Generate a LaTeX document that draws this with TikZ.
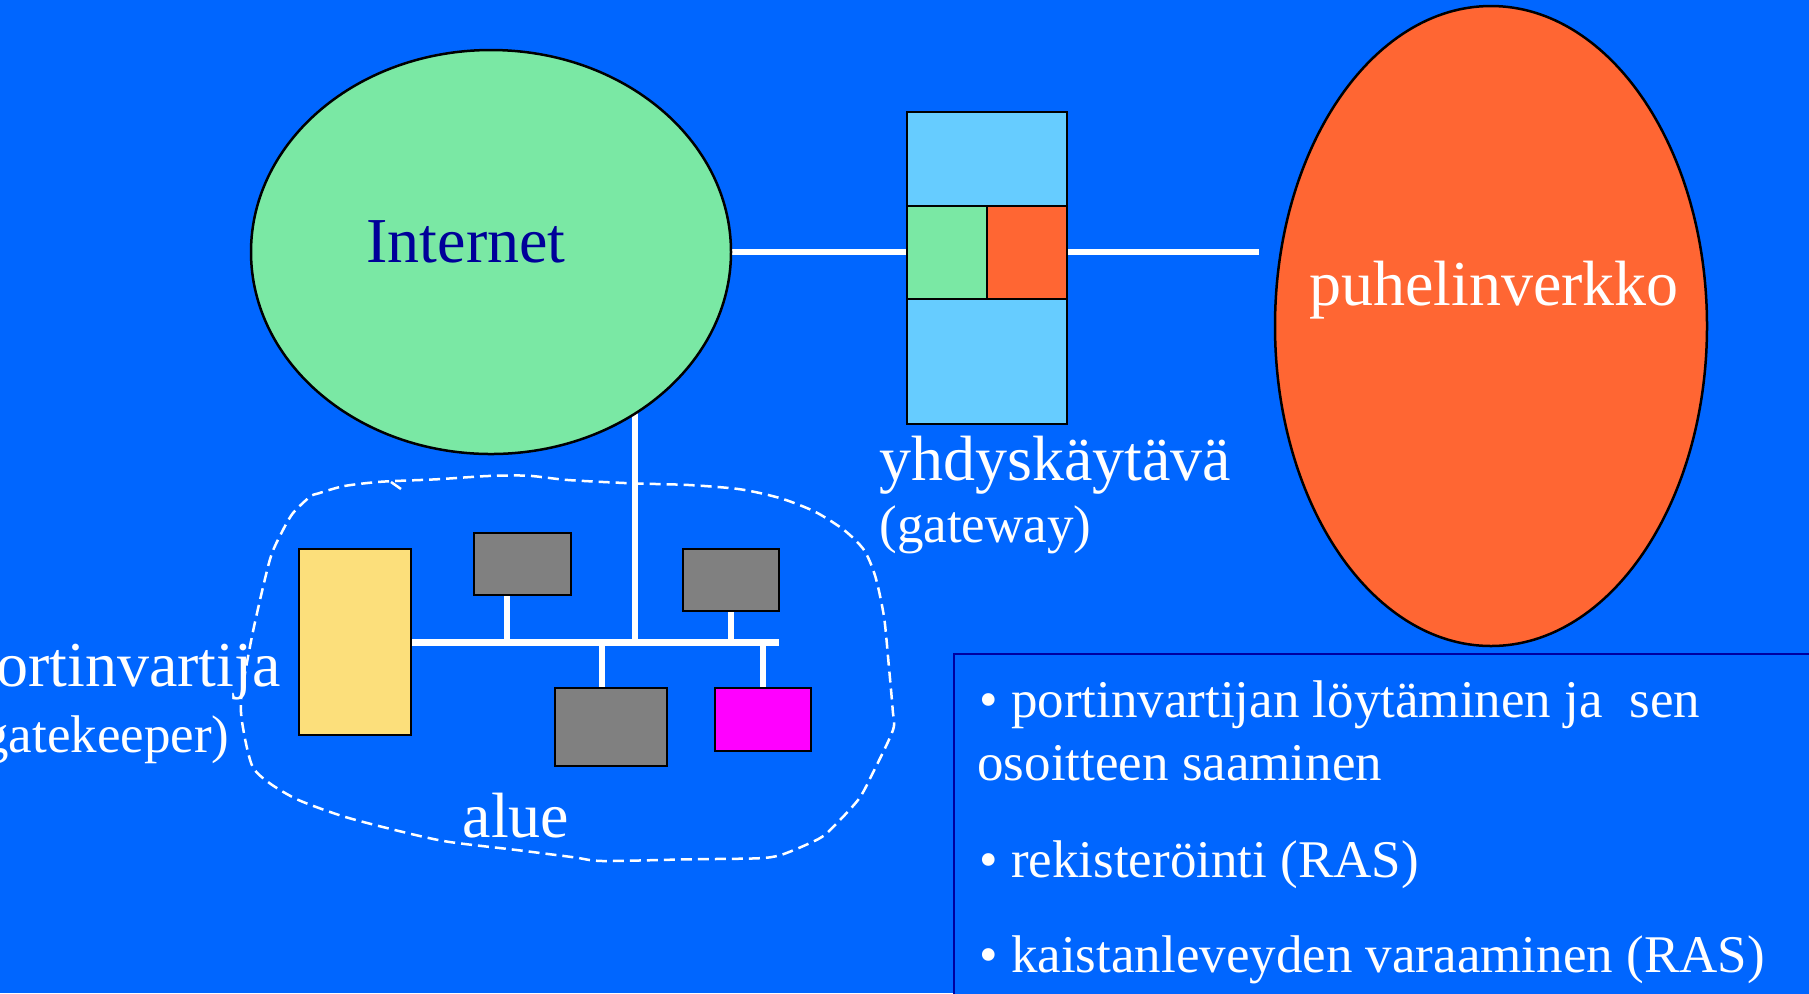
\documentclass[tikz,border=0pt]{standalone}
\usepackage{fontspec}
\setmainfont{Liberation Serif}
\usetikzlibrary{shapes.geometric}

\definecolor{bgblue}{RGB}{0,102,255}
\definecolor{netgreen}{RGB}{122,232,164}
\definecolor{gwblue}{RGB}{102,204,255}
\definecolor{telorange}{RGB}{255,102,51}
\definecolor{gkyellow}{RGB}{252,223,123}
\definecolor{hostgray}{RGB}{128,128,128}
\definecolor{termmagenta}{RGB}{255,0,255}
\definecolor{navytext}{RGB}{0,0,153}
\definecolor{boxedge}{RGB}{0,0,160}

\pgfdeclarelayer{back}
\pgfdeclarelayer{wires}
\pgfsetlayers{back,wires,main}

\tikzset{
  cloudnet/.style={ellipse, draw=black, line width=1.25pt, inner sep=0pt, outer sep=0pt},
  unit/.style={rectangle, draw=black, line width=1pt, inner sep=0pt, outer sep=0pt},
  wire/.style={draw=white, line width=3pt},
  busline/.style={draw=white, line width=3.5pt},
  zoneline/.style={draw=white, line width=1.25pt, dash pattern=on 5.5pt off 3pt},
  bigtext/.style={text=white, font=\fontsize{32}{38}\selectfont, inner sep=0pt},
  smalltext/.style={text=white, font=\fontsize{26.5}{31.5}\selectfont, inner sep=0pt},
  infobox/.style={rectangle, draw=boxedge, line width=1.3pt, fill=bgblue, inner sep=0pt, outer sep=0pt}
}

\begin{document}
\begin{tikzpicture}[x=0.5pt,y=-0.5pt]
\path[use as bounding box] (0,0) rectangle (1809,993);
\clip (0,0) rectangle (1809,993);
\begin{pgfonlayer}{back}
  \fill[bgblue] (0,0) rectangle (1809,993);
\end{pgfonlayer}

% networks
\node[cloudnet, fill=netgreen, minimum width=240pt, minimum height=202pt] (inet) at (491,252) {};
\node[text=navytext, font=\fontsize{32}{38}\selectfont, inner sep=0pt, anchor=base] (inetlabel) at (466,262) {Internet};

\node[cloudnet, fill=telorange, minimum width=216pt, minimum height=320pt] (phone) at (1491,326) {};
\node[bigtext, anchor=base] (phonelabel) at (1494,305) {puhelinverkko};

% gateway
\node[unit, fill=gwblue, minimum width=80pt, minimum height=47pt] (gwtop) at (987,159) {};
\node[unit, fill=netgreen, minimum width=40pt, minimum height=46.5pt] (gwleft) at (947,252.5) {};
\node[unit, fill=telorange, minimum width=40pt, minimum height=46.5pt] (gwright) at (1027,252.5) {};
\node[unit, fill=gwblue, minimum width=80pt, minimum height=62.5pt] (gwbottom) at (987,361.5) {};
\node[bigtext, anchor=base west] (gwname) at (879,480) {yhdyskäytävä};
\node[smalltext, anchor=base west] (gwnote) at (879,542) {(gateway)};

\coordinate (phoneend) at (1259,252);
\begin{pgfonlayer}{wires}
  \draw[wire] (inet.east) -- (gwleft.west |- inet.east);
  \draw[wire] (gwright.east |- phoneend) -- (phoneend);
\end{pgfonlayer}

% zone with gatekeeper and terminals
\node[unit, fill=gkyellow, minimum width=56pt, minimum height=93pt] (gk) at (355,642) {};
\node[unit, fill=hostgray, minimum width=48.5pt, minimum height=31pt] (hostA) at (522.5,564) {};
\node[unit, fill=hostgray, minimum width=48pt, minimum height=31pt] (hostB) at (731,580) {};
\node[unit, fill=hostgray, minimum width=56pt, minimum height=39pt] (hostC) at (611,727) {};
\node[unit, fill=termmagenta, minimum width=48pt, minimum height=31.5pt] (hostD) at (763,719.5) {};

\coordinate (busend) at (779,642);
\coordinate (jA) at (507,642);
\coordinate (jB) at (731,642);
\coordinate (jC) at (602,642);
\coordinate (jD) at (763,642);
\coordinate (jnet) at (635,642);

\begin{pgfonlayer}{wires}
  \draw[busline] (gk.east) -- (busend);
  \draw[wire] (jA) -- (jA |- hostA.south);
  \draw[wire] (jB) -- (jB |- hostB.south);
  \draw[wire] (jC) -- (jC |- hostC.north);
  \draw[wire] (jD) -- (jD |- hostD.north);
  \draw[wire] (jnet) -- (jnet |- inet.center);
\end{pgfonlayer}

\node[bigtext, anchor=base east] (gkname) at (281,686) {portinvartija};
\node[smalltext, anchor=base east] (gknote) at (230,752) {(gatekeeper)};

\draw[zoneline] plot[smooth cycle, tension=0.45] coordinates {
  (318.6,493.3) (344.4,486) (381.7,481.7) (436.3,479.3) (488,476) (528,475.7)
  (568,480) (631.5,483.3) (689,485) (740.5,489.3) (780.7,498.3) (815,511.7)
  (844,530) (864,550) (875.4,576.7) (884,616.7) (888.6,663.3) (892.7,710)
  (893,730) (872.6,773.3) (858,800) (826.6,833.3) (809.4,843.3) (780.7,855)
  (757.7,858.3) (689,859.3) (602.8,861) (574,857.3) (516.6,850) (447.8,841.7)
  (401.8,831.7) (344.4,816.7) (298.5,800) (269.8,783.3) (252.6,766.7)
  (244,733.3) (241,700) (252.6,633.3) (269.8,560) (281.3,533.3) (292.8,513.3)
  (310,496.7)};
\draw[draw=white, line width=1.25pt] (391,482) -- (401,489);
\node[bigtext, anchor=base] (zonename) at (516,837) {alue};

% information box
\node[infobox, anchor=north west, minimum width=440pt, minimum height=180pt] (info) at (954,654) {};
\node[smalltext, anchor=base west] (infoA) at (979,717) {• portinvartijan löytäminen ja\ \ sen};
\node[smalltext, anchor=base west] (infoB) at (977,780) {osoitteen saaminen};
\node[smalltext, anchor=base west] (infoC) at (979,877) {• rekisteröinti (RAS)};
\node[smalltext, anchor=base west] (infoD) at (979,972) {• kaistanleveyden varaaminen (RAS)};
\end{tikzpicture}
\end{document}
